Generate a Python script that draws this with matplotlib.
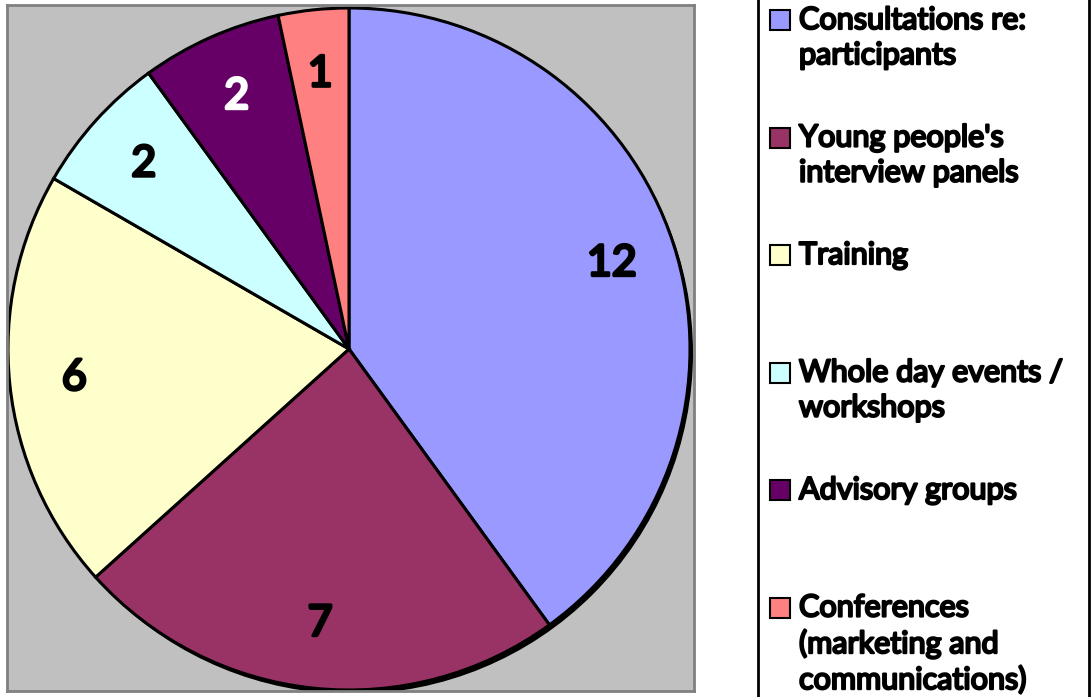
import matplotlib.pyplot as plt
from matplotlib.patches import Rectangle, Circle
import matplotlib.patheffects as pe
import numpy as np

plt.rcParams['font.family'] = ['Lato', 'DejaVu Sans']

labels = ['Consultations re:\nparticipants', "Young people's\ninterview panels", 'Training',
          'Whole day events /\nworkshops', 'Advisory groups',
          'Conferences\n(marketing and\ncommunications)']
values = [12, 7, 6, 2, 2, 1]
colors = ['#9999FF', '#993366', '#FFFFCC', '#CCFFFF', '#660066', '#FF8080']
label_colors = ['black', 'black', 'black', 'black', 'white', 'black']

W, H = 1091, 697
fig = plt.figure(figsize=(W / 100, H / 100), dpi=100)

# plot area in pixel units
x0, x1, y0, y1 = 7, 694, 5, 691
ax = fig.add_axes([x0 / W, (H - y1) / H, (x1 - x0) / W, (y1 - y0) / H])
ax.set_facecolor('#C0C0C0')

cx, cy, r = 349, H - 349, 341

# shadow under the pie
ax.add_patch(Circle((cx + 3, cy - 4), r, facecolor='black', edgecolor='none', zorder=0))

wedges, _ = ax.pie(values, colors=colors, startangle=90, counterclock=False,
                   radius=r, center=(cx, cy), frame=True,
                   wedgeprops=dict(edgecolor='black', linewidth=2.2))
for w in wedges:
    w.set_zorder(1)

total = sum(values)
ang = 90.0
for v, c in zip(values, label_colors):
    mid = ang - v / total * 360 / 2
    ang -= v / total * 360
    tx = cx + 0.81 * r * np.cos(np.radians(mid))
    ty = cy + 0.81 * r * np.sin(np.radians(mid))
    ax.text(tx, ty, str(v), ha='center', va='center', fontsize=31, color=c, zorder=3,
            path_effects=[pe.withStroke(linewidth=2.2, foreground=c)])

ax.set_xlim(x0, x1)
ax.set_ylim(H - y1, H - y0)
ax.set_aspect('auto')
ax.set_xticks([])
ax.set_yticks([])
for s in ax.spines.values():
    s.set_color('#808080')
    s.set_linewidth(2)

# legend box
fig.patches.append(Rectangle((758 / W, -0.01), (1089 - 758) / W, 1.02,
                             transform=fig.transFigure, facecolor='white',
                             edgecolor='black', linewidth=2))

bold = [pe.withStroke(linewidth=1.6, foreground='black')]
for i, (lab, col) in enumerate(zip(labels, colors)):
    ytop = 20 + i * 117.5
    fig.patches.append(Rectangle((770 / W, 1 - (ytop + 10) / H), 20 / W, 20 / H,
                                 transform=fig.transFigure, facecolor=col,
                                 edgecolor='black', linewidth=1.5))
    fig.text(799 / W, 1 - (ytop - 14) / H, lab, ha='left', va='top',
             fontsize=22, linespacing=1.31, path_effects=bold)

fig.savefig('out.png', dpi=100)
